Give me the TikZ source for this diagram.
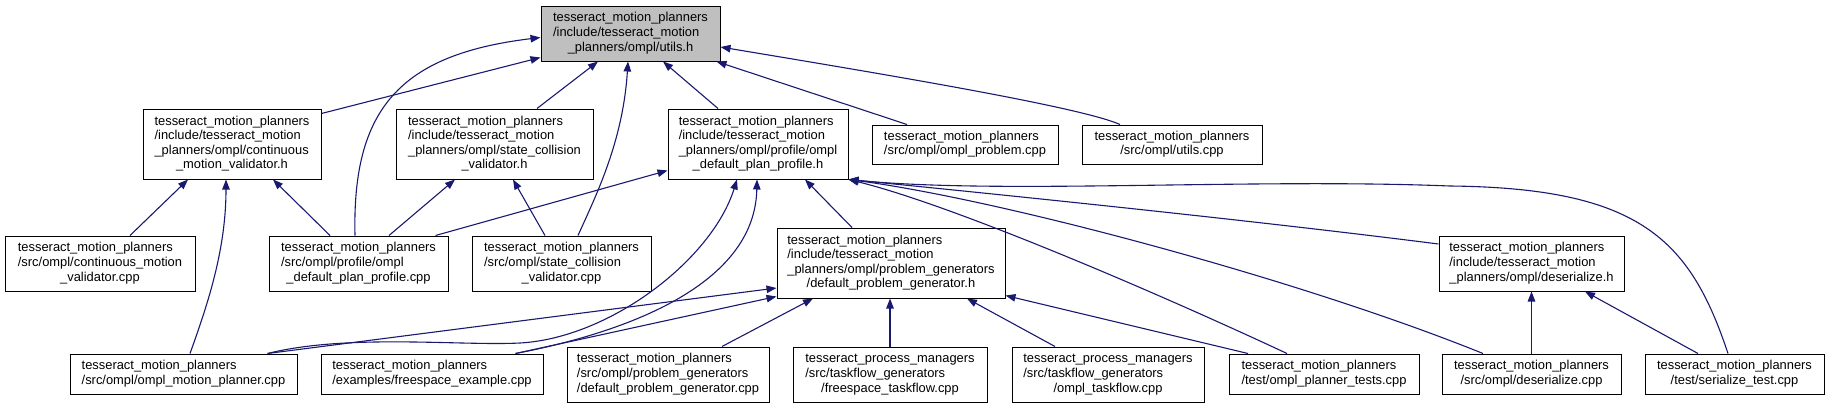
\documentclass[tikz,border=0pt]{standalone}
\usepackage{fontspec}
\setmainfont{Liberation Sans}
\usetikzlibrary{arrows.meta}
\definecolor{edgeblue}{HTML}{191970}
\definecolor{rootgray}{HTML}{BFBFBF}
\newcommand{\dxfont}{\fontsize{12.9}{14.6}\selectfont}
% left aligned lines, last one centred
\newcommand{\flbl}[2]{\begin{tabular}{@{}l@{}}#1\\\multicolumn{1}{@{}c@{}}{#2}\end{tabular}}

\begin{document}
\begin{tikzpicture}[x=1pt,y=-1pt,
  filebox/.style 2 args={draw=black,line width=1pt,fill=white,inner sep=0pt,
    minimum width=#1pt,minimum height=#2pt,font=\dxfont},
  incl/.style={draw=edgeblue,line width=1.1pt,-{Triangle[length=10pt,width=7.5pt]}}]
  \useasboundingbox (0,0) rectangle (1829,408);

  % first row
  \node[filebox={179}{55},fill=rootgray] (utils) at (630.5,33.5)
    {\flbl{tesseract\_motion\_planners\\/include/tesseract\_motion}{\_planners/ompl/utils.h}};
  % second row
  \node[filebox={178}{70}] (cmvh) at (232,144)
    {\flbl{tesseract\_motion\_planners\\/include/tesseract\_motion\\\_planners/ompl/continuous}{\_motion\_validator.h}};
  \node[filebox={197}{70}] (scvh) at (494.5,144)
    {\flbl{tesseract\_motion\_planners\\/include/tesseract\_motion\\\_planners/ompl/state\_collision}{\_validator.h}};
  \node[filebox={180}{70}] (dpph) at (758,144)
    {\flbl{tesseract\_motion\_planners\\/include/tesseract\_motion\\\_planners/ompl/profile/ompl}{\_default\_plan\_profile.h}};
  \node[filebox={186}{39}] (probc) at (965,144.5)
    {\flbl{tesseract\_motion\_planners}{/src/ompl/ompl\_problem.cpp}};
  \node[filebox={180}{39}] (utilc) at (1172,144.5)
    {\flbl{tesseract\_motion\_planners}{/src/ompl/utils.cpp}};
  % third row
  \node[filebox={190}{55}] (cmvc) at (100,263.5)
    {\flbl{tesseract\_motion\_planners\\/src/ompl/continuous\_motion}{\_validator.cpp}};
  \node[filebox={179}{55}] (dppc) at (358.5,263.5)
    {\flbl{tesseract\_motion\_planners\\/src/ompl/profile/ompl}{\_default\_plan\_profile.cpp}};
  \node[filebox={179}{55}] (scvc) at (561.5,263.5)
    {\flbl{tesseract\_motion\_planners\\/src/ompl/state\_collision}{\_validator.cpp}};
  \node[filebox={228}{70}] (dpgh) at (891,263)
    {\flbl{tesseract\_motion\_planners\\/include/tesseract\_motion\\\_planners/ompl/problem\_generators}{/default\_problem\_generator.h}};
  \node[filebox={185}{55}] (deserh) at (1531.5,263.5)
    {\flbl{tesseract\_motion\_planners\\/include/tesseract\_motion}{\_planners/ompl/deserialize.h}};
  % last row
  \node[filebox={227}{40}] (ompc) at (183.5,374)
    {\flbl{tesseract\_motion\_planners}{/src/ompl/ompl\_motion\_planner.cpp}};
  \node[filebox={222}{40}] (fsec) at (432,374)
    {\flbl{tesseract\_motion\_planners}{/examples/freespace\_example.cpp}};
  \node[filebox={202}{55}] (dpgc) at (668,374.5)
    {\flbl{tesseract\_motion\_planners\\/src/ompl/problem\_generators}{/default\_problem\_generator.cpp}};
  \node[filebox={194}{55}] (fstc) at (890,374.5)
    {\flbl{tesseract\_process\_managers\\/src/taskflow\_generators}{/freespace\_taskflow.cpp}};
  \node[filebox={192}{55}] (otfc) at (1108,374.5)
    {\flbl{tesseract\_process\_managers\\/src/taskflow\_generators}{/ompl\_taskflow.cpp}};
  \node[filebox={190}{40}] (optc) at (1324,374)
    {\flbl{tesseract\_motion\_planners}{/test/ompl\_planner\_tests.cpp}};
  \node[filebox={179}{40}] (deserc) at (1531.5,374)
    {\flbl{tesseract\_motion\_planners}{/src/ompl/deserialize.cpp}};
  \node[filebox={179}{40}] (sert) at (1734.5,374)
    {\flbl{tesseract\_motion\_planners}{/test/serialize\_test.cpp}};

  % includes of utils.h
  \draw[incl] ([yshift=-5pt]cmvh.north east) -- ([yshift=4pt]utils.south west);
  \draw[incl] ([xshift=-3.5pt]dppc.north) .. controls +(-3,-126) and +(-141,17) .. ([yshift=-32pt]utils.north west);
  \draw[incl] ([xshift=42.5pt]scvh.north) -- ([xshift=-32.5pt]utils.south);
  \draw[incl] ([xshift=16.5pt]scvc.north) .. controls +(18,-40) and +(-5,80) .. ([xshift=-2.5pt]utils.south);
  \draw[incl] ([xshift=-40pt]dpph.north) -- ([xshift=32.5pt]utils.south);
  \draw[incl] ([xshift=-58pt]probc.north) -- ([xshift=-4pt]utils.south east);
  \draw[incl] ([xshift=-52pt]utilc.north) .. controls +(-40,-18) and +(150,25) .. ([yshift=-13.5pt]utils.east);

  % continuous_motion_validator.h and state_collision_validator.h
  \draw[incl] ([xshift=30pt]cmvc.north) -- ([xshift=-44pt]cmvh.south);
  \draw[incl] ([xshift=6.5pt]ompc.north) .. controls +(18,-50) and +(0,70) .. ([xshift=-6pt]cmvh.south);
  \draw[incl] ([xshift=-28.5pt]dppc.north) -- ([xshift=41pt]cmvh.south);
  \draw[incl] ([xshift=30.5pt]dppc.north) -- ([xshift=-39.5pt]scvh.south);
  \draw[incl] ([xshift=-16.5pt]scvc.north) -- ([xshift=18.5pt]scvh.south);

  % ompl_default_plan_profile.h
  \draw[incl] ([xshift=-13pt]dppc.north east) -- ([yshift=9pt]dpph.south west);
  \draw[incl] ([xshift=-30pt]ompc.north east) .. controls +(80,-20) and +(-60,3) .. (520,343)
    .. controls +(90,-5) and +(-25,80) .. ([xshift=-21pt]dpph.south);
  \draw[incl] ([xshift=-28pt]fsec.north east) .. controls +(125,-24) and +(-2,100) .. ([xshift=-1pt]dpph.south);
  \draw[incl] ([xshift=-39pt]dpgh.north) -- ([xshift=47pt]dpph.south);
  \draw[incl] ([xshift=-37pt]optc.north) .. controls +(-137,-64) and +(102,25) .. (dpph.south east);
  \draw[incl] ([xshift=-48.5pt]deserc.north) .. controls +(-183,-74) and +(152,20) .. (dpph.south east);
  \draw[incl] ([yshift=19.5pt]deserh.west) .. controls +(-189,-24) and +(152,15) .. (dpph.south east);
  \draw[incl] ([xshift=-6.5pt]sert.north) .. controls +(-38,-114) and +(190,2) .. (1450,186)
    .. controls +(-200,-8) and +(152,15) .. (dpph.south east);

  % default_problem_generator.h
  \draw[incl] ([xshift=-30pt]ompc.north east) -- ([yshift=-25pt]dpgh.west);
  \draw[incl] ([xshift=-28pt]fsec.north east) -- ([yshift=2pt]dpgh.south west);
  \draw[incl] ([xshift=54pt]dpgc.north) -- ([xshift=-78pt]dpgh.south);
  \draw[incl] (fstc.north) -- (fstc.north |- dpgh.south);
  \draw[incl] ([xshift=-53pt]otfc.north) -- ([xshift=76pt]dpgh.south);
  \draw[incl] ([xshift=-76pt]optc.north) -- ([yshift=3pt]dpgh.south east);

  % deserialize.h
  \draw[incl] (deserc.north) -- (deserh.south);
  \draw[incl] ([xshift=-36.5pt]sert.north) -- ([xshift=53.5pt]deserh.south);
\end{tikzpicture}
\end{document}
